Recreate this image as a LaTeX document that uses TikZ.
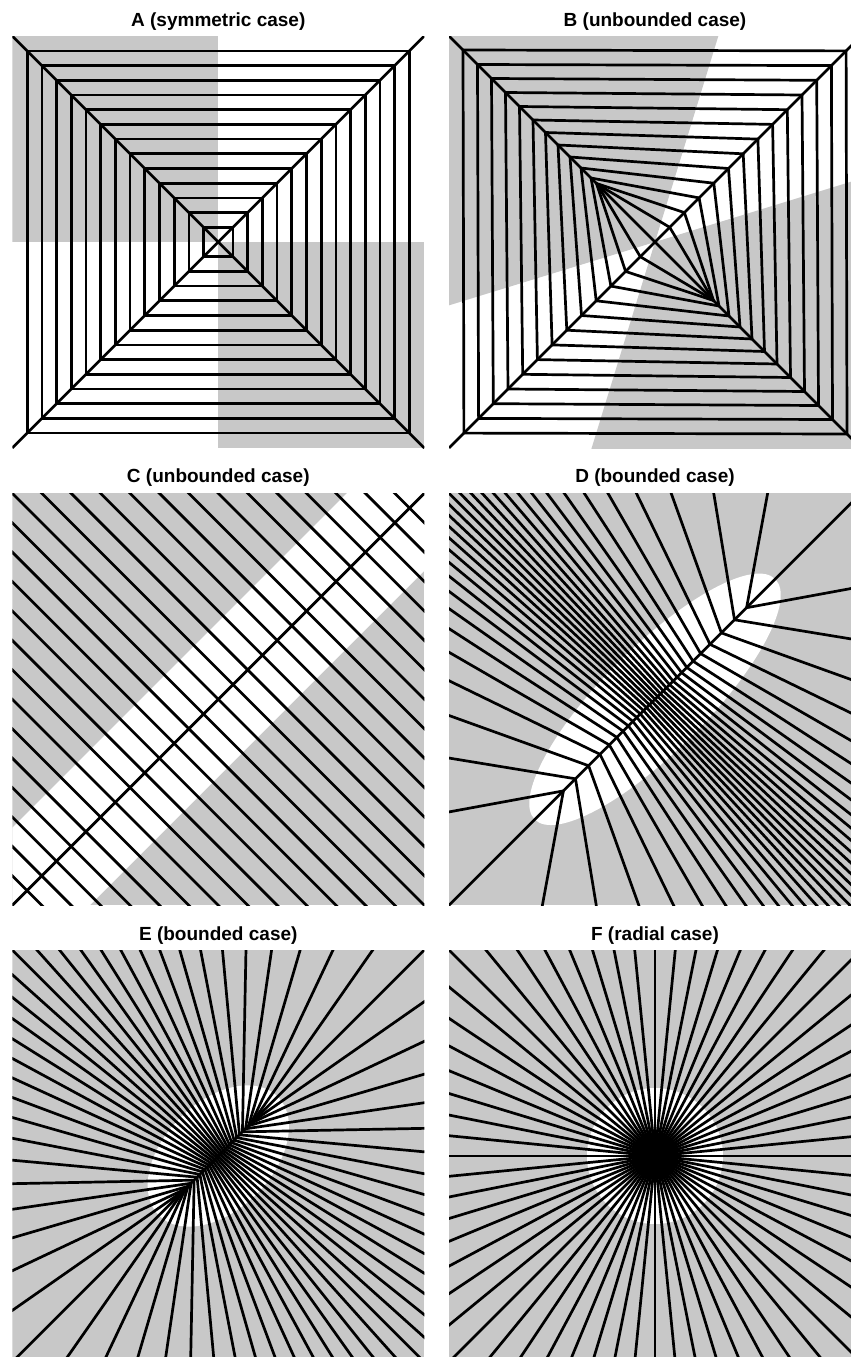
\documentclass[tikz,border=0pt]{standalone}
\usepackage{fontspec}
\setmainfont{Liberation Sans}
\definecolor{bggray}{RGB}{200,200,200}
\begin{document}
\begin{tikzpicture}[x=1pt,y=-1pt,
  ln/.style={line width=2.7pt,black},
  gfill/.style={fill=bggray},
  ttl/.style={font=\fontsize{19}{22}\selectfont\bfseries,anchor=base,inner sep=0pt}]
\useasboundingbox (0,0) rectangle (851,1357);
\clip (0,0) rectangle (851,1357);
\fill[white] (0,0) rectangle (851,1357);
% titles
\node[ttl] (tA) at (218.3,27) {A (symmetric case)};
\node[ttl] (tB) at (655,27) {B (unbounded case)};
\node[ttl] (tC) at (218.3,482.5) {C (unbounded case)};
\node[ttl] (tD) at (655,482.5) {D (bounded case)};
\node[ttl] (tE) at (218.3,940.5) {E (bounded case)};
\node[ttl] (tF) at (655,940.5) {F (radial case)};
% ---------------- A
\begin{scope}[shift={(218.3,242)}]
\clip (-206,-206) rectangle (206,206);
\path[gfill] (-206,-206) rectangle (0,0);
\path[gfill] (0,0) rectangle (206,206);
\foreach \kk in {1,...,13} {\draw[ln] ({-14.7*\kk},{-14.7*\kk}) rectangle ({14.7*\kk},{14.7*\kk});}
\draw[ln] (-206,-206) -- (206,206);
\draw[ln] (206,-206) -- (-206,206);
\end{scope}
% ---------------- B
\begin{scope}[shift={(655,242)}]
\clip (-206,-206) rectangle (206,206);
\path[gfill] (0,0) -- (176.4,-573.6) -- (-600,-600) -- (-573.6,176.4) -- cycle;
\path[gfill] (0,0) -- (-176.4,573.6) -- (600,600) -- (573.6,-176.4) -- cycle;
\foreach \kk/\gk in {1/58,2/58.5,3/64,4/74,5/85,6/97,7/109.5,8/122,9/135.5,10/149.5,11/163.5,12/177.5,13/192}
  {\draw[ln] ({-\gk},{-\gk}) -- ({14.7*\kk},{-14.7*\kk}) -- (\gk,\gk) -- ({-14.7*\kk},{14.7*\kk}) -- cycle;}
\draw[ln] (-206,-206) -- (206,206);
\draw[ln] (206,-206) -- (-206,206);
\end{scope}
% ---------------- C
\begin{scope}[shift={(218.3,699.3)}]
\clip (-206,-206) rectangle (206,206);
\path[gfill] (-206,-206) rectangle (206,206);
\fill[white] (-400,322.5) -- (322.5,-400) -- (400,-322.5) -- (-322.5,400) -- cycle;
\foreach \kk in {-13,...,13}
  {\draw[ln] ({14.714*\kk-300},{-14.714*\kk-300}) -- ({14.714*\kk+300},{-14.714*\kk+300});}
\draw[ln] (-300,300) -- (300,-300);
\end{scope}
% ---------------- D
\begin{scope}[shift={(655,699.3)}]
\clip (-206,-206) rectangle (206,206);
\path[gfill] (-206,-206) rectangle (206,206);
\fill[white,rotate=45] (0,0) ellipse [x radius=170, y radius=52];
\foreach \j in {1,...,31} {
  \pgfmathsetmacro\myphi{\j*5.625}
  \pgfmathsetmacro\myt{atan2(3.5*sin(\myphi),cos(\myphi))}
  \pgfmathsetmacro\myth{atan2(7*sin(\myphi),cos(\myphi))}
  \pgfmathsetmacro\mys{96.87*cos(\myt)}
  \pgfmathsetmacro\myms{-(\mys)}
  \pgfmathsetmacro\ax{(cos(\myth)-sin(\myth))*424}
  \pgfmathsetmacro\ay{(-cos(\myth)-sin(\myth))*424}
  \pgfmathsetmacro\bx{(cos(\myth)+sin(\myth))*424}
  \pgfmathsetmacro\by{(-cos(\myth)+sin(\myth))*424}
  \draw[ln] (\mys,\myms) -- ++(\ax,\ay);
  \draw[ln] (\mys,\myms) -- ++(\bx,\by);
}
\draw[ln] (-300,300) -- (300,-300);
\end{scope}
% ---------------- E
\begin{scope}[shift={(218.3,1156)}]
\clip (-206,-206) rectangle (206,206);
\path[gfill] (-206,-206) rectangle (206,206);
\fill[white,rotate=45] (0,0) ellipse [x radius=84, y radius=54];
\foreach \j in {1,...,31} {
  \pgfmathsetmacro\myphi{\j*5.625}
  \pgfmathsetmacro\myt{atan2(2*sin(\myphi),cos(\myphi))}
  \pgfmathsetmacro\myth{atan2(1.8*sin(\myphi),cos(\myphi))}
  \pgfmathsetmacro\mys{35.36*cos(\myt)}
  \pgfmathsetmacro\myms{-(\mys)}
  \pgfmathsetmacro\ax{(cos(\myth)-sin(\myth))*424}
  \pgfmathsetmacro\ay{(-cos(\myth)-sin(\myth))*424}
  \pgfmathsetmacro\bx{(cos(\myth)+sin(\myth))*424}
  \pgfmathsetmacro\by{(-cos(\myth)+sin(\myth))*424}
  \draw[ln] (\mys,\myms) -- ++(\ax,\ay);
  \draw[ln] (\mys,\myms) -- ++(\bx,\by);
}
\draw[ln] (-300,300) -- (300,-300);
\end{scope}
% ---------------- F
\begin{scope}[shift={(655,1156)}]
\clip (-206,-206) rectangle (206,206);
\path[gfill] (-206,-206) rectangle (206,206);
\fill[white] (0,0) circle [radius=68];
\foreach \j in {0,...,63} {\draw[ln] (0,0) -- ({400*cos(\j*5.625)},{400*sin(\j*5.625)});}
\end{scope}
\end{tikzpicture}
\end{document}
